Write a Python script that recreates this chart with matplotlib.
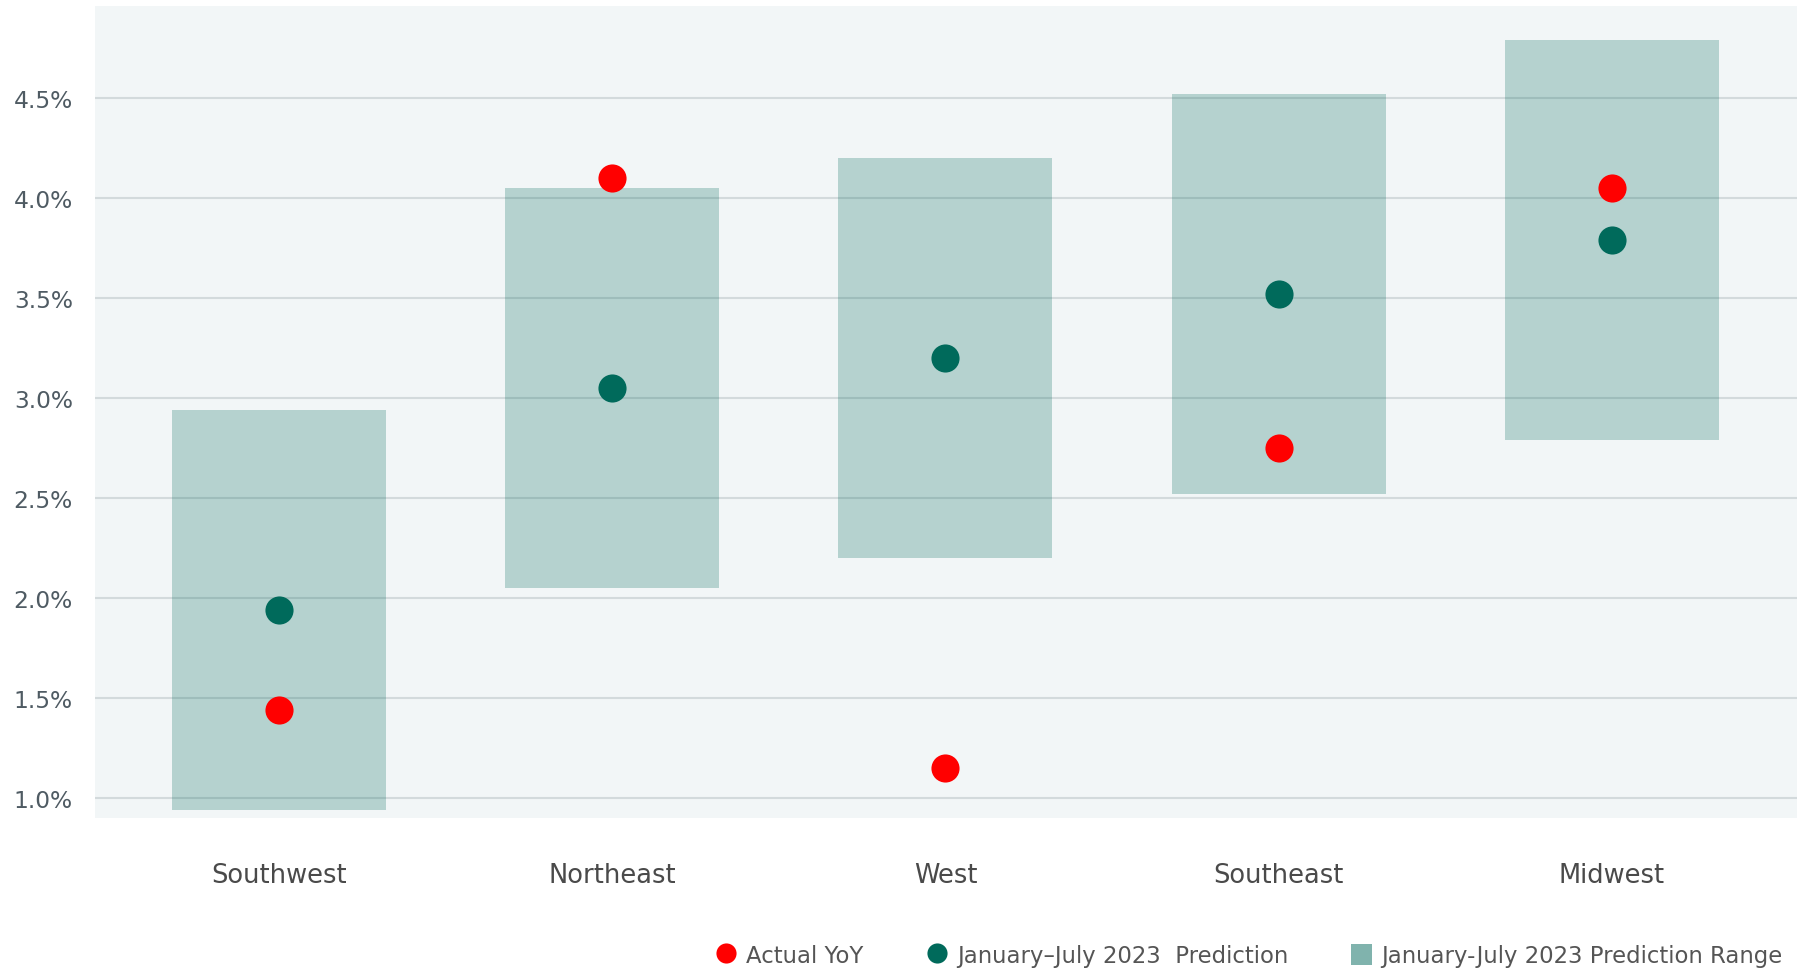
import matplotlib.pyplot as plt
from matplotlib.lines import Line2D
from matplotlib.patches import Patch
from matplotlib.ticker import FuncFormatter

regions = ['Southwest', 'Northeast', 'West', 'Southeast', 'Midwest']
actual_yoy = [1.44, 4.10, 1.15, 2.75, 4.05]
prediction = [1.94, 3.05, 3.20, 3.52, 3.79]
range_low = [0.94, 2.05, 2.20, 2.52, 2.79]
range_high = [2.94, 4.05, 4.20, 4.52, 4.79]
y_ticks = [1.0, 1.5, 2.0, 2.5, 3.0, 3.5, 4.0, 4.5]

RED = '#FF0000'
GREEN = '#006A5B'
BG = '#F2F6F7'

plt.rcParams['font.family'] = ['DejaVu Sans']

fig = plt.figure(figsize=(18.16, 9.70), dpi=100)
ax = fig.add_axes([0.0523, 0.1557, 0.9372, 0.8371])
ax.set_facecolor(BG)

x = list(range(len(regions)))
heights = [h - l for h, l in zip(range_high, range_low)]
# pasovi opsega predvidjanja
ax.bar(x, heights, bottom=range_low, width=0.642, color=GREEN, alpha=0.25,
       linewidth=0, zorder=2)
ax.scatter(x, prediction, s=410, color=GREEN, zorder=3, linewidths=0)
ax.scatter(x, actual_yoy, s=410, color=RED, zorder=4, linewidths=0)

ax.set_xlim(-0.552, 4.555)
ax.set_ylim(0.9, 4.96)
ax.set_yticks(y_ticks)
ax.yaxis.set_major_formatter(FuncFormatter(lambda v, p: f'{v:.1f}%'))
ax.set_xticks(x)
ax.set_xticklabels(regions)
ax.grid(axis='y', color='#D3DADC', linewidth=1.5, zorder=1)
ax.set_axisbelow(True)
for s in ax.spines.values():
    s.set_visible(False)
ax.tick_params(axis='y', length=0, pad=16, labelsize=16.8, labelcolor='#4F5B63')
ax.tick_params(axis='x', length=0, pad=32, labelsize=18.5, labelcolor='#4A4A4A')

handles = [
    Line2D([], [], marker='o', linestyle='', markersize=14.5,
           markerfacecolor=RED, markeredgewidth=0, label='Actual YoY'),
    Line2D([], [], marker='o', linestyle='', markersize=14.5,
           markerfacecolor=GREEN, markeredgewidth=0,
           label='January\u2013July 2023  Prediction'),
    Patch(facecolor='#80B3AD', edgecolor='none',
          label='January-July 2023 Prediction Range'),
]
fig.legend(handles=handles, ncol=3, loc='lower right',
           bbox_to_anchor=(0.993, -0.019), frameon=False, fontsize=16.4,
           labelcolor='#555555', handlelength=0.95, handletextpad=0.4,
           columnspacing=2.75, handleheight=1.05)

fig.savefig('out.png', dpi=100)
